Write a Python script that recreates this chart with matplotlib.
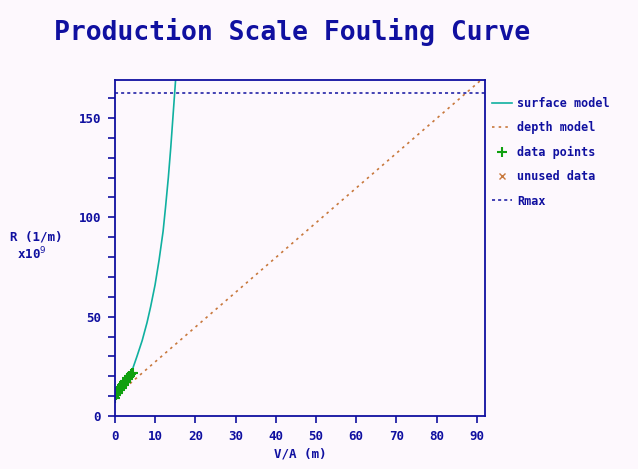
import matplotlib
matplotlib.use('Agg')
import matplotlib.pyplot as plt
from matplotlib.ticker import MultipleLocator

# values
surf_x = [0.0, 1.0, 2.0, 3.0, 4.3, 5.5, 6.8, 8.0, 8.9, 10.0, 11.0, 12.0, 12.6, 13.3, 13.9, 14.5, 15.1, 15.4]
surf_y = [9.7, 11.5, 14.0, 17.5, 23.0, 30.0, 38.0, 47.0, 55.0, 66.0, 78.5, 93.0, 105.0, 120.0, 135.0, 152.0, 169.0, 178.0]

depth_x = [0.0, 95.0]
depth_y = [9.7, 176.0]

data_x = [0.1, 0.2, 0.4, 0.5, 0.7, 0.9, 1.0, 1.2, 1.4, 1.5, 1.7, 1.9, 2.0, 2.2, 2.4, 2.5,
          2.7, 2.9, 3.0, 3.2, 3.4, 3.6, 3.8, 4.0, 4.3, 4.6]
data_y = [9.2, 10.4, 10.6, 11.8, 11.5, 12.6, 13.4, 12.9, 14.2, 14.8, 14.3, 15.6, 16.2, 15.7,
          17.0, 17.6, 17.2, 18.4, 18.9, 18.5, 19.6, 20.2, 20.0, 21.0, 21.4, 21.6]

unused_x = []
unused_y = []

rmax = 162.5

navy = '#1010A0'
bg = '#FDF8FD'
mono = 'DejaVu Sans Mono'

fig = plt.figure(figsize=(6.38, 4.69), dpi=100, facecolor=bg)
ax = fig.add_axes([0.180, 0.113, 0.580, 0.716], facecolor=bg)

l1, = ax.plot(surf_x, surf_y, color='#10B0A0', lw=1.2, label='surface model')
l2, = ax.plot(depth_x, depth_y, color='#C8783C', lw=1.2, ls=(0, (1.5, 2.5)), label='depth model')
l3, = ax.plot(data_x, data_y, '+', color='#10A010', ms=7, mew=1.5, label='data points')
l4, = ax.plot(unused_x, unused_y, 'x', color='#C8783C', ms=4, mew=1, label='unused data')
l5 = ax.axhline(rmax, color=navy, lw=1.1, ls=(0, (2, 2)), label='Rmax')

ax.set_xlim(0, 92)
ax.set_ylim(0, 169)
ax.xaxis.set_major_locator(MultipleLocator(10))
ax.yaxis.set_major_locator(MultipleLocator(50))
ax.yaxis.set_minor_locator(MultipleLocator(10))
ax.tick_params(axis='both', which='both', direction='out', length=5, width=1.2,
               color=navy, labelcolor=navy, pad=5)
for lab in ax.get_xticklabels() + ax.get_yticklabels():
    lab.set_fontfamily(mono)
    lab.set_fontweight('bold')
    lab.set_fontsize(9)
for s in ax.spines.values():
    s.set_color(navy)
    s.set_linewidth(1.3)

ax.set_xlabel('V/A (m)', fontfamily=mono, fontweight='bold', fontsize=9, color=navy, labelpad=3)
fig.text(0.016, 0.495, 'R (1/m)', fontfamily=mono, fontweight='bold', fontsize=9, color=navy,
         ha='left', va='center')
fig.text(0.027, 0.458, 'x10$^9$', fontfamily=mono, fontweight='bold', fontsize=9, color=navy,
         ha='left', va='center')

fig.text(0.085, 0.932, 'Production Scale Fouling Curve', fontfamily=mono, fontweight='bold',
         fontsize=19, color=navy, ha='left', va='center')

leg = ax.legend(handles=[l1, l2, l3, l4, l5], loc='upper left', bbox_to_anchor=(1.0, 0.972),
                frameon=False, handlelength=1.7, handletextpad=0.4, labelspacing=0.97,
                prop={'family': mono, 'weight': 'bold', 'size': 8.5}, borderaxespad=0.2)
for t in leg.get_texts():
    t.set_color(navy)

fig.savefig('out.png', dpi=100, facecolor=bg)
